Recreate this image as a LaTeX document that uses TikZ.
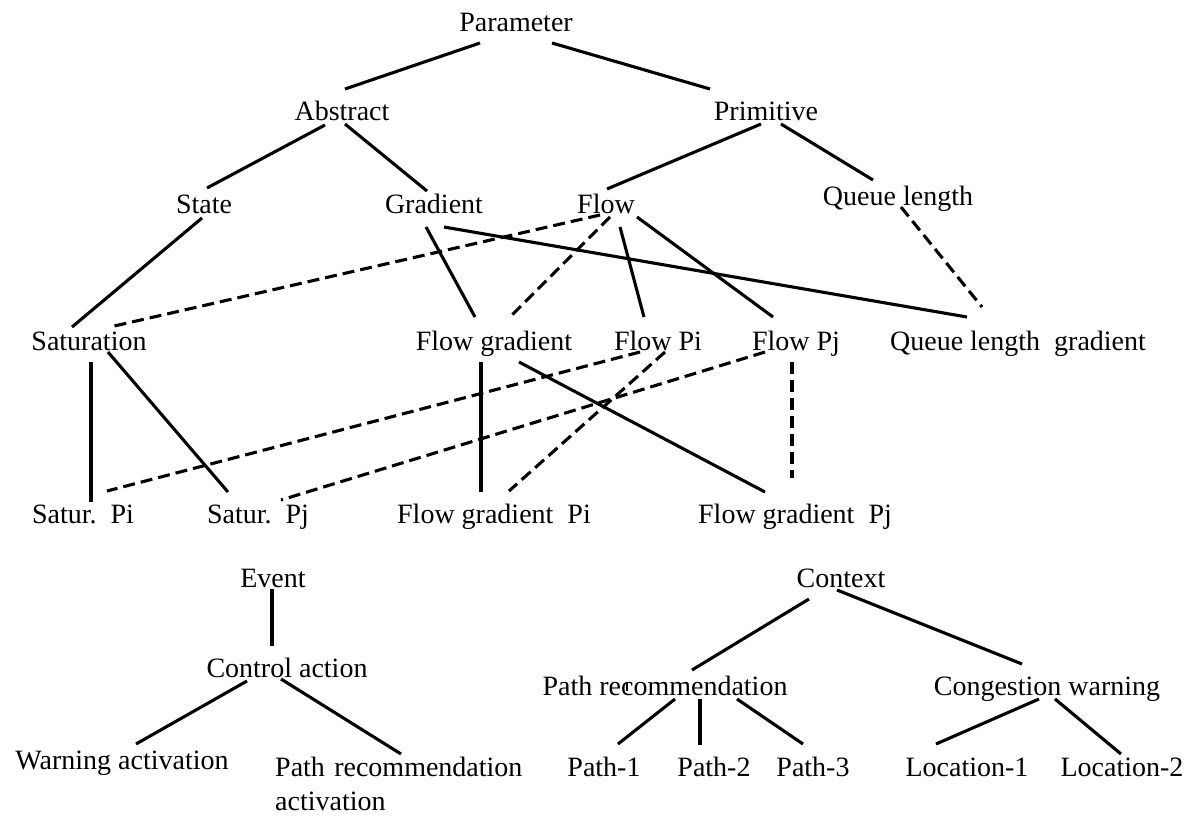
\documentclass[tikz,border=0pt]{standalone}
\usepackage{fontspec}
\setmainfont{Liberation Serif}
\begin{document}
\begin{tikzpicture}[x=1pt,y=-1pt,
  lbl/.style={inner sep=0pt,anchor=base,font=\fontsize{28}{34}\selectfont},
  solidlink/.style={line width=3.1pt},
  dashlink/.style={line width=3.1pt,dash pattern=on 12pt off 6pt}]
\useasboundingbox (0,0) rectangle (1191,815);
% nodes
\node[lbl] (par) at (516,31) {Parameter};
\node[lbl] (abs) at (342,120) {Abstract};
\node[lbl] (pri) at (766,120) {Primitive};
\node[lbl] (sta) at (204,213) {State};
\node[lbl] (gra) at (434,213) {Gradient};
\node[lbl] (flo) at (606,213) {Flow};
\node[lbl] (que) at (898,205) {Queue length};
\node[lbl] (sat) at (89,350) {Saturation};
\node[lbl] (fg) at (494,350) {Flow gradient};
\node[lbl] (fpi) at (658,350) {Flow Pi};
\node[lbl] (fpj) at (796,350) {Flow Pj};
\node[lbl] (qlg) at (1018,350) {Queue length\ \ gradient};
\node[lbl] (spi) at (83,523) {Satur.\ \ Pi};
\node[lbl] (spj) at (258,523) {Satur.\ \ Pj};
\node[lbl] (fgpi) at (494,523) {Flow gradient\ \ Pi};
\node[lbl] (fgpj) at (795,523) {Flow gradient\ \ Pj};
\node[lbl] (eve) at (273,587) {Event};
\node[lbl] (con) at (287,677) {Control action};
\node[lbl] (wa) at (122,769) {Warning activation};
\node[lbl,anchor=base west,text width=300pt,align=left] (pra) at (275,776) {Path recommendation\\activation};
\node[lbl] (ctx) at (841,587) {Context};
\node[lbl] (prc) at (665,695) {Path recommendation};
\node[lbl] (cgw) at (1047,695) {Congestion warning};
\node[lbl] (p1) at (604,776) {Path-1};
\node[lbl] (p2) at (714,776) {Path-2};
\node[lbl] (p3) at (813,776) {Path-3};
\node[lbl] (l1) at (967,776) {Location-1};
\node[lbl] (l2) at (1122,776) {Location-2};
% solid connectors
\draw[solidlink] ([shift={(-36,12)}]par.base) -- ([shift={(3,-31)}]abs.base);
\draw[solidlink] ([shift={(36,12)}]par.base) -- ([shift={(-56,-31)}]pri.base);
\draw[solidlink] ([shift={(-17,5)}]abs.base) -- ([shift={(3,-25)}]sta.base);
\draw[solidlink] ([shift={(3,4)}]abs.base) -- ([shift={(-7,-22)}]gra.base);
\draw[solidlink] ([shift={(-5,4)}]pri.base) -- ([shift={(1,-24)}]flo.base);
\draw[solidlink] ([shift={(15,4)}]pri.base) -- ([shift={(-25,-25)}]que.base);
\draw[solidlink] ([shift={(-2,5)}]sta.base) -- ([shift={(-17,-23)}]sat.base);
\draw[solidlink] ([shift={(-8,14)}]gra.base) -- ([shift={(-19,-33)}]fg.base);
\draw[solidlink] ([shift={(10,14)}]gra.base) -- ([shift={(-51,-33)}]qlg.base);
\draw[solidlink] ([shift={(14,14)}]flo.base) -- ([shift={(-14,-33)}]fpi.base);
\draw[solidlink] ([shift={(31,4)}]flo.base) -- ([shift={(-23,-33)}]fpj.base);
\draw[solidlink] ([shift={(2,12)}]sat.base) -- ([shift={(8,-21)}]spi.base);
\draw[solidlink] ([shift={(19,2)}]sat.base) -- ([shift={(-30,-31)}]spj.base);
\draw[solidlink] ([shift={(-13,12)}]fg.base) -- ([shift={(-13,-31)}]fgpi.base);
\draw[solidlink] ([shift={(25,12)}]fg.base) -- ([shift={(-30,-31)}]fgpj.base);
\draw[solidlink] ([shift={(-1,2)}]eve.base) -- ([shift={(-15,-31)}]con.base);
\draw[solidlink] ([shift={(-40,4)}]con.base) -- ([shift={(14,-25)}]wa.base);
\draw[solidlink] ([shift={(-6,2)}]con.base) -- ([shift={(126,-22)}]pra.base west);
\draw[solidlink] ([shift={(-32,12)}]ctx.base) -- ([shift={(27,-25)}]prc.base);
\draw[solidlink] ([shift={(-4,3)}]ctx.base) -- ([shift={(-25,-31)}]cgw.base);
\draw[solidlink] ([shift={(10,4)}]prc.base) -- ([shift={(14,-32)}]p1.base);
\draw[solidlink] ([shift={(35,4)}]prc.base) -- ([shift={(-14,-31)}]p2.base);
\draw[solidlink] ([shift={(72,4)}]prc.base) -- ([shift={(-10,-32)}]p3.base);
\draw[solidlink] ([shift={(-8,4)}]cgw.base) -- ([shift={(-31,-32)}]l1.base);
\draw[solidlink] ([shift={(8,4)}]cgw.base) -- ([shift={(-1,-22)}]l2.base);
\draw[line width=2pt] ([shift={(-38,-12)}]prc.base) -- ([shift={(-38,-4)}]prc.base);
% dashed connectors
\draw[dashlink] ([shift={(-6,2)}]flo.base) -- ([shift={(21,-23)}]sat.base);
\draw[dashlink] ([shift={(4,4)}]flo.base) -- ([shift={(18,-35)}]fg.base);
\draw[dashlink] ([shift={(3,2)}]que.base) -- ([shift={(-36,-43)}]qlg.base);
\draw[dashlink] ([shift={(-18,2)}]fpi.base) -- ([shift={(24,-32)}]spi.base);
\draw[dashlink] ([shift={(-31,2)}]fpj.base) -- ([shift={(23,-23)}]spj.base);
\draw[dashlink] ([shift={(7,2)}]fpi.base) -- ([shift={(15,-32)}]fgpi.base);
\draw[dashlink] ([shift={(-4,12)}]fpj.base) -- ([shift={(-3,-45)}]fgpj.base);
\end{tikzpicture}
\end{document}
